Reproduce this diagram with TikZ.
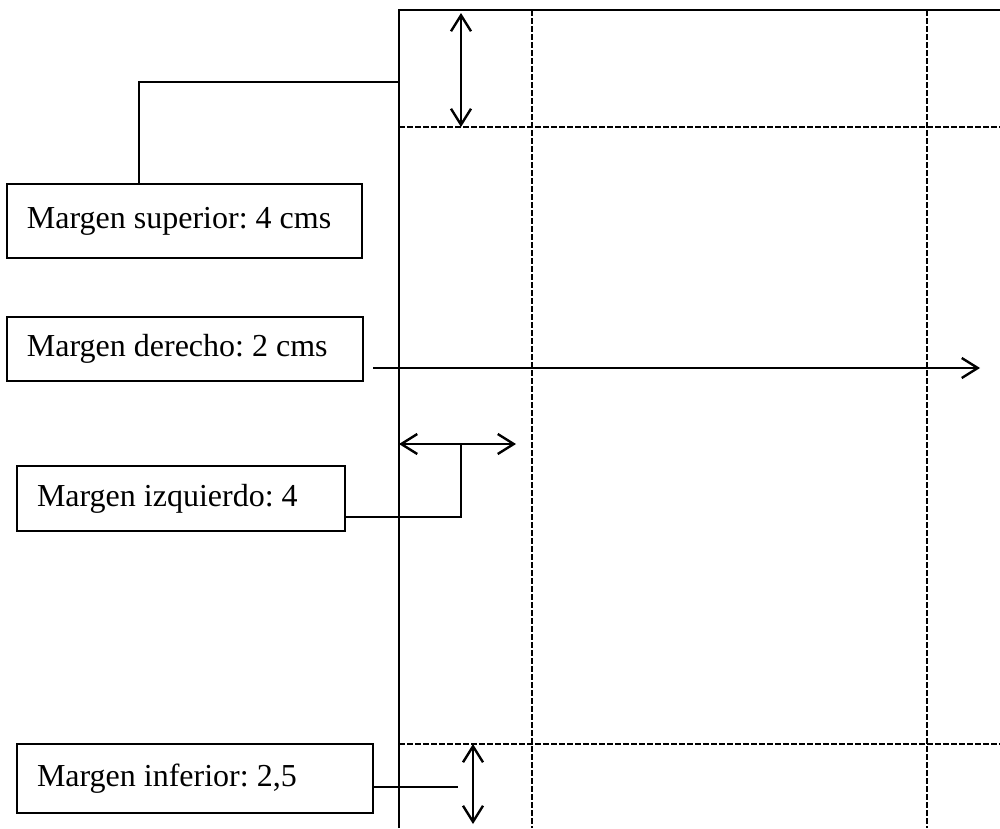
\documentclass[tikz,border=0pt]{standalone}
\usepackage{fontspec}
\setmainfont{Liberation Serif}
\usetikzlibrary{arrows.meta}
\frenchspacing
\begin{document}
\begin{tikzpicture}[x=1pt,y=-1pt,
  labelbox/.style={draw, line width=2pt, anchor=north west, align=flush left,
    inner xsep=20pt, inner ysep=0pt, font=\fontsize{32}{38}\selectfont\frenchspacing},
  pageline/.style={line width=2.2pt},
  guide/.style={line width=2pt, dash pattern=on 6pt off 2pt},
  lead/.style={line width=2.2pt},
  dim/.style={line width=2.4pt},
  barb/.tip={Straight Barb[length=16pt,width=20pt,line width=2.4pt]}
]
\useasboundingbox (0,0) rectangle (1000,828);
\fill[white] (0,0) rectangle (1000,828);

% page outline and margin guides
\coordinate (tl) at (399,10);
\coordinate (bl) at (399,828);
\coordinate (tr) at (1000,10);
\draw[pageline] (bl) -- (tl) -- (tr);
\coordinate (g1t) at (532,10);  \coordinate (g1b) at (532,828);
\coordinate (g2t) at (927,10);  \coordinate (g2b) at (927,828);
\coordinate (h1l) at (399,127); \coordinate (h1r) at (1000,127);
\coordinate (h2l) at (399,744); \coordinate (h2r) at (1000,744);
\draw[guide] (g1t) -- (g1b);
\draw[guide] (g2t) -- (g2b);
\draw[guide] (h1l) -- (h1r);
\draw[guide] (h2l) -- (h2r);

% label boxes
\node[labelbox, text width=315pt, minimum height=74pt] (sup) at (6,183) {Margen superior: 4 cms};
\node[labelbox, text width=316pt, minimum height=64pt] (der) at (6,316) {Margen derecho: 2 cms};
\node[labelbox, text width=288pt, minimum height=65pt] (izq) at (16,465) {Margen izquierdo: 4};
\node[labelbox, text width=316pt, minimum height=69pt] (inf) at (16,743) {Margen inferior: 2,5};

% dimension arrows
\coordinate (supA) at (461,13);  \coordinate (supB) at (461,127);
\draw[dim, barb-barb] (supA) -- (supB);
\coordinate (derA) at (373,368); \coordinate (derB) at (980,368);
\draw[dim, -barb] (derA) -- (derB);
\coordinate (izqA) at (399,444); \coordinate (izqB) at (516,444);
\draw[dim, barb-barb] (izqA) -- (izqB);
\coordinate (infA) at (473,744); \coordinate (infB) at (473,824);
\draw[dim, barb-barb] (infA) -- (infB);

% leader lines
\coordinate (supx) at (139,0);
\coordinate (supend) at (399,82);
\draw[lead] (sup.north -| supx) |- (supend);
\coordinate (izqend) at (461,444);
\coordinate (izqy) at (0,517);
\draw[lead] (izq.east |- izqy) -| (izqend);
\coordinate (infend) at (458,787);
\draw[lead] (inf.east |- infend) -- (infend);
\end{tikzpicture}
\end{document}
